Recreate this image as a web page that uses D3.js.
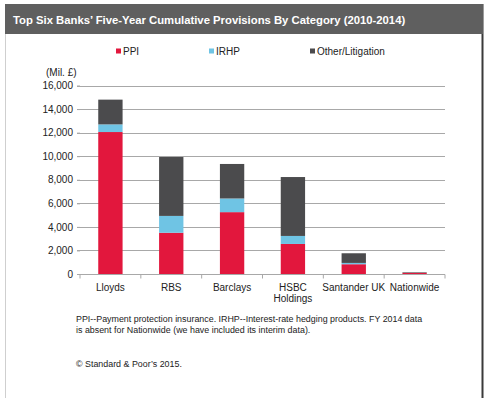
<!DOCTYPE html>
<html><head><meta charset="utf-8">
<script src="https://cdn.jsdelivr.net/npm/d3@7"></script>
<style>body{margin:0;background:#fff}svg{display:block}text{font-family:Arial,"Liberation Sans",sans-serif}</style>
</head><body>
<svg id="c" width="488" height="398"></svg>
<script>
const banks = ["Lloyds", "RBS", "Barclays", "HSBC Holdings", "Santander UK", "Nationwide"];
const seriesNames = ["PPI", "IRHP", "Other/Litigation"];
const ppi = [12050, 3500, 5250, 2550, 830, 90];
const irhp = [650, 1430, 1160, 680, 110, 0];
const other = [2100, 5000, 2930, 5000, 820, 50];
const yTicks = [0, 2000, 4000, 6000, 8000, 10000, 12000, 14000, 16000];
const colors = ["#e2173d", "#6fc4e4", "#4b4b4d"];

const svg = d3.select("#c");
// frame
svg.append("rect").attr("x",5.5).attr("y",4.5).attr("width",477).attr("height",400).attr("fill","#fff").attr("stroke","#cfcfcf");
svg.append("line").attr("x1",482.5).attr("x2",482.5).attr("y1",4).attr("y2",398).attr("stroke","#3a3a3a").attr("stroke-width",2);
svg.append("rect").attr("x",5).attr("y",4).attr("width",478).attr("height",30).attr("fill","#5f5f5f");
const title = svg.append("text").attr("x",13).attr("y",24).attr("fill","#fff").attr("font-weight","bold").attr("font-size",12)
  .text("Top Six Banks\u2019  Five-Year Cumulative Provisions  By Category (2010-2014)");
const tw = title.node().getComputedTextLength();
title.attr("font-size", 12*393/tw);

const x = d3.scaleBand().domain(banks).range([80,445]).paddingInner(0.6).paddingOuter(0.3);
const y = d3.scaleLinear().domain([0,16000]).range([274,85.5]);

// gridlines
svg.append("g").selectAll("line").data(yTicks.slice(1)).join("line")
  .attr("x1",77).attr("x2",445).attr("y1",d=>Math.round(y(d))+0.5).attr("y2",d=>Math.round(y(d))+0.5)
  .attr("stroke","#a8a8a8").attr("stroke-width",1);

// y axis labels
const ya = svg.append("g").attr("transform","translate(80,0)")
  .call(d3.axisLeft(y).tickValues(yTicks).tickFormat(d3.format(",")).tickSize(3).tickPadding(4));
ya.select(".domain").remove();
ya.selectAll(".tick line").attr("stroke","#a8a8a8");
ya.selectAll("text").attr("font-size",10).attr("fill","#222").attr("font-family","Arial,'Liberation Sans',sans-serif");

svg.append("text").attr("x",46).attr("y",76).attr("font-size",10).attr("fill","#222").text("(Mil. \u00a3)");

// stacked bars
const rows = banks.map((b,i)=>({bank:b, "PPI":ppi[i], "IRHP":irhp[i], "Other/Litigation":other[i]}));
const stack = d3.stack().keys(seriesNames)(rows);
svg.append("g").selectAll("g").data(stack).join("g").attr("fill",(d,i)=>colors[i])
  .selectAll("rect").data(d=>d).join("rect")
  .attr("x",d=>x(d.data.bank)).attr("width",x.bandwidth())
  .attr("y",d=>y(d[1])).attr("height",d=>Math.max(0,y(d[0])-y(d[1])));

// x axis
const xa = svg.append("g").attr("transform","translate(0,274.5)")
  .call(d3.axisBottom(x).tickSize(0).tickPadding(9));
xa.select(".domain").attr("stroke","#a8a8a8").attr("d","M80,0H445");
xa.selectAll(".tick text").remove();
const bounds = d3.range(banks.length+1).map(i=>80+i*(365/banks.length));
xa.selectAll(".sep").data(bounds).join("line").attr("class","sep")
  .attr("x1",d=>d).attr("x2",d=>d).attr("y1",0).attr("y2",4).attr("stroke","#a8a8a8");
const labs = svg.append("g").selectAll("text").data(banks).join("text")
  .attr("x",d=>x(d)+x.bandwidth()/2).attr("y",291).attr("text-anchor","middle")
  .attr("font-size",10).attr("fill","#222");
labs.each(function(d){
  const t=d3.select(this);
  if(d==="HSBC Holdings"){
    t.append("tspan").attr("x",x(d)+x.bandwidth()/2).text("HSBC");
    t.append("tspan").attr("x",x(d)+x.bandwidth()/2).attr("dy",11).text("Holdings");
  } else t.text(d);
});

// legend
const legX = [116, 209, 310];
const lg = svg.append("g").selectAll("g").data(seriesNames).join("g")
  .attr("transform",(d,i)=>`translate(${legX[i]},51)`);
lg.append("rect").attr("x",0).attr("y",-2.5).attr("width",5).attr("height",5).attr("fill",(d,i)=>colors[i]);
lg.append("text").attr("x",7).attr("y",3.5).attr("font-size",10).attr("fill","#222").text(d=>d);

// notes
const notes = ["PPI--Payment protection insurance. IRHP--Interest-rate hedging products. FY 2014 data",
  "is absent for Nationwide (we have included its interim data)."];
svg.append("g").selectAll("text").data(notes).join("text")
  .attr("x",76).attr("y",(d,i)=>321.5+i*11.5).attr("font-size",8.9).attr("fill","#222").text(d=>d);
svg.append("text").attr("x",76).attr("y",366.5).attr("font-size",8.9).attr("fill","#222").text("\u00a9 Standard & Poor\u2019s 2015.");
</script>
</body></html>
